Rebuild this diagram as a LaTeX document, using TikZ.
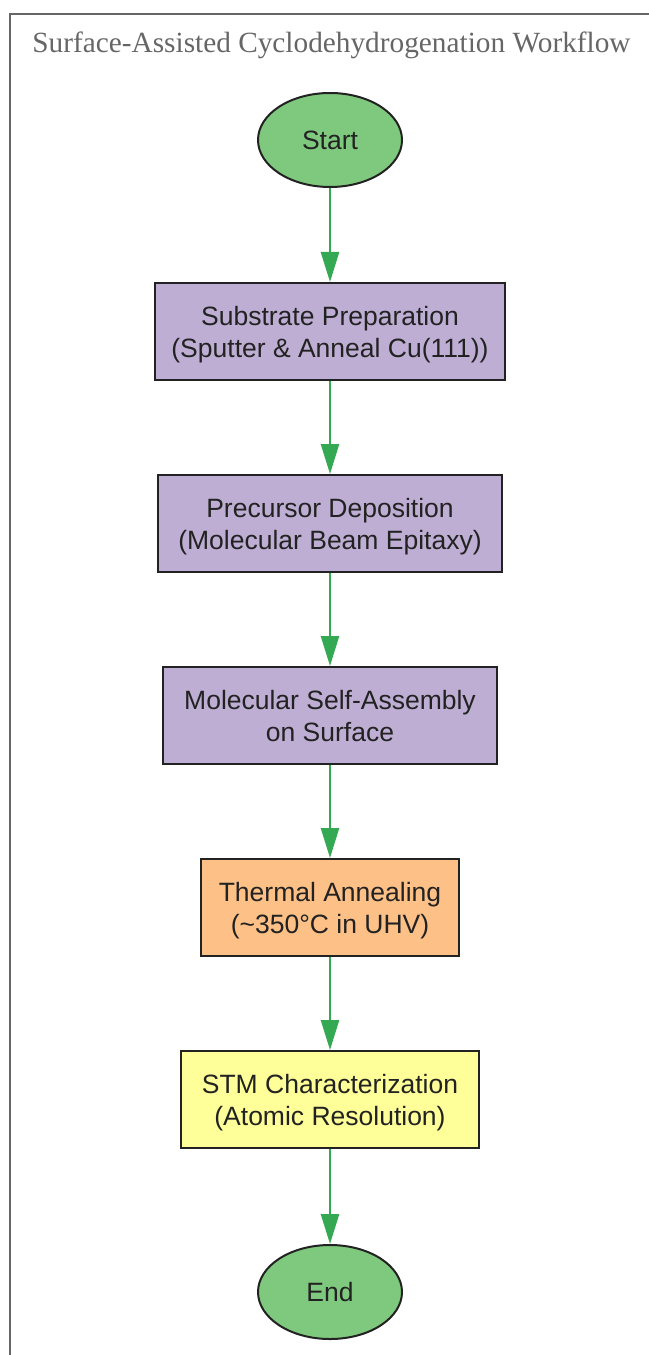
\documentclass[tikz,border=0pt]{standalone}
\usepackage{fontspec}
\setmainfont{Liberation Sans}
\newfontfamily\titlefont{Liberation Serif}
\usetikzlibrary{arrows.meta,shapes.geometric}
\definecolor{termgreen}{HTML}{7FC97F}
\definecolor{prepviolet}{HTML}{BEAED4}
\definecolor{heatorange}{HTML}{FDC086}
\definecolor{stmyellow}{HTML}{FFFF99}
\definecolor{flowgreen}{HTML}{34A853}
\definecolor{inkgray}{HTML}{222222}
\definecolor{framegray}{HTML}{666666}
\newcommand{\topstrut}{\rule{0pt}{25.6bp}}
\newcommand{\botstrut}{\rule[-6bp]{0pt}{0pt}}
\tikzset{every picture/.style={/utils/exec={\fontsize{26.5bp}{32bp}\selectfont}}}
\tikzset{terminal/.style={ellipse,draw=inkgray,line width=2bp,fill=termgreen,text=inkgray,minimum width=144bp,minimum height=94bp,inner sep=0pt}}
\tikzset{stepbox/.style={rectangle,draw=inkgray,line width=2bp,text=inkgray,align=center,minimum height=97bp,inner xsep=16bp}}
\tikzset{flow/.style={draw=flowgreen,line width=2.5bp,-{Triangle[length=30bp,width=18bp]}}}

\begin{document}
\begin{tikzpicture}[x=1bp,y=-1bp]
    \useasboundingbox (0,0) rectangle (649,1355);
    \draw [framegray,line width=2bp] (10,14) rectangle (700,1400);
    \node [text=framegray,font=\titlefont\fontsize{29.3bp}{34bp}\selectfont] at (331.5,45) (title) {Surface-Assisted Cyclodehydrogenation Workflow};
    \node [terminal] at (330,140) (start) {Start};
    \node [stepbox,fill=prepviolet] at (330,331.5) (substrate) {\topstrut Substrate Preparation\\(Sputter \& Anneal Cu(111))\botstrut};
    \node [stepbox,fill=prepviolet,minimum width=344bp] at (330,523.5) (deposition) {\topstrut Precursor Deposition\\(Molecular Beam Epitaxy)\botstrut};
    \node [stepbox,fill=prepviolet,minimum width=334bp] at (330,715.5) (assembly) {\topstrut Molecular Self-Assembly\\on Surface\botstrut};
    \node [stepbox,fill=heatorange,minimum width=258bp] at (330,907.5) (annealing) {\topstrut Thermal Annealing\\(\textasciitilde350°C in UHV)\botstrut};
    \node [stepbox,fill=stmyellow,minimum width=298bp] at (330,1099.5) (stm) {\topstrut STM Characterization\\(Atomic Resolution)\botstrut};
    \node [terminal] at (330,1292) (end) {End};
    \draw [flow] (start) -- (substrate);
    \draw [flow] (substrate) -- (deposition);
    \draw [flow] (deposition) -- (assembly);
    \draw [flow] (assembly) -- (annealing);
    \draw [flow] (annealing) -- (stm);
    \draw [flow] (stm) -- (end);
\end{tikzpicture}
\end{document}
